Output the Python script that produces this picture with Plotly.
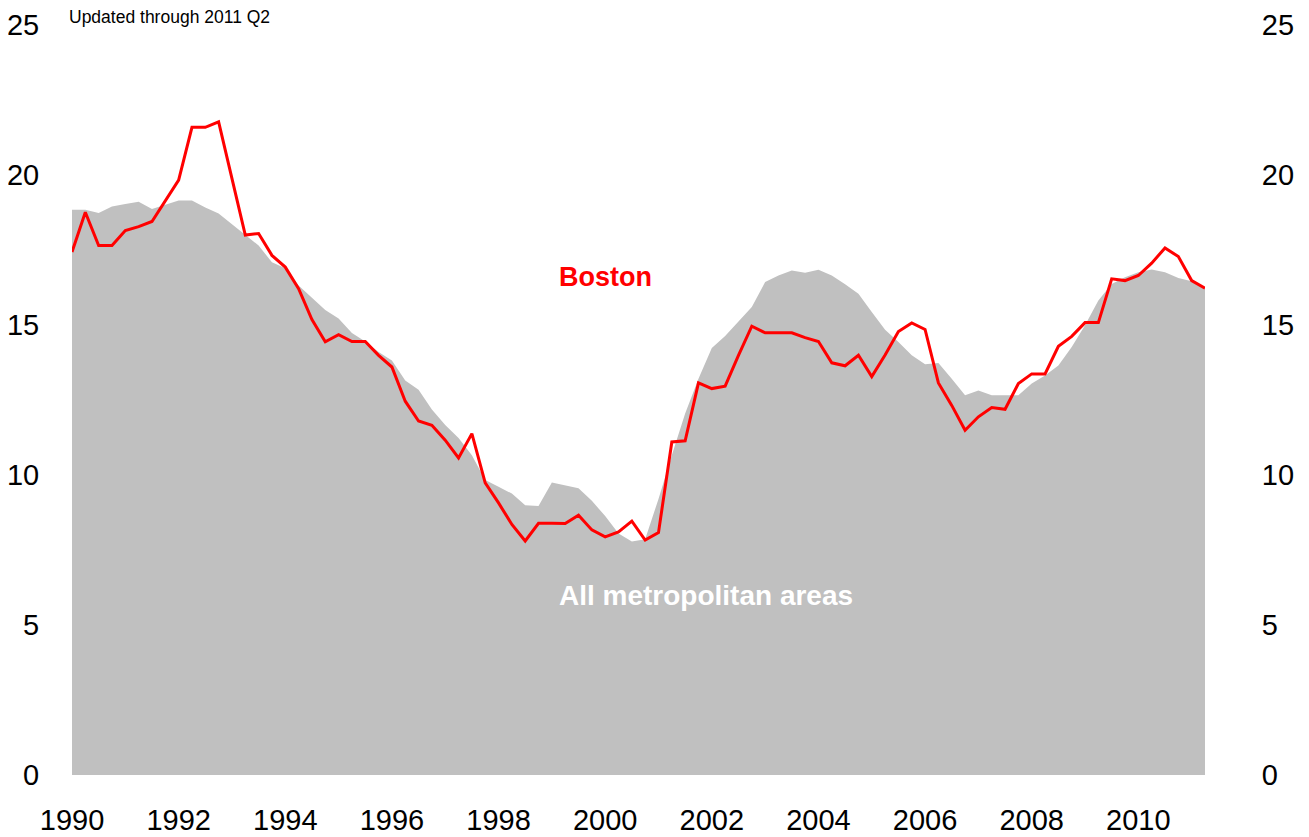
import plotly.graph_objects as go

# Quarterly, 1990 Q1 .. 2011 Q2
start_year = 1990
boston = [17.43, 18.76, 17.65, 17.65, 18.15, 18.28, 18.45, 19.15, 19.83, 21.59,
          21.59, 21.77, 19.93, 18.00, 18.05, 17.32, 16.93, 16.21, 15.18, 14.44,
          14.68, 14.45, 14.45, 13.99, 13.60, 12.46, 11.80, 11.66, 11.16, 10.57,
          11.38, 9.74, 9.07, 8.35, 7.80, 8.39, 8.39, 8.38, 8.66, 8.17,
          7.94, 8.10, 8.46, 7.83, 8.08, 11.10, 11.14, 13.07, 12.88, 12.96,
          13.99, 14.96, 14.74, 14.74, 14.74, 14.58, 14.45, 13.74, 13.64, 13.99,
          13.28, 14.00, 14.78, 15.07, 14.85, 13.07, 12.32, 11.49, 11.94, 12.25,
          12.19, 13.05, 13.37, 13.37, 14.29, 14.62, 15.08, 15.08, 16.54, 16.48,
          16.65, 17.06, 17.57, 17.28, 16.48, 16.23]
all_metro = [18.84, 18.84, 18.73, 18.95, 19.03, 19.11, 18.87, 19.00, 19.15, 19.15,
             18.92, 18.72, 18.37, 18.00, 17.65, 17.09, 16.89, 16.32, 15.90, 15.50,
             15.22, 14.73, 14.45, 14.10, 13.82, 13.15, 12.84, 12.18, 11.67, 11.23,
             10.66, 9.83, 9.61, 9.38, 8.99, 8.97, 9.75, 9.66, 9.56, 9.14,
             8.63, 8.05, 7.78, 7.86, 9.20, 10.66, 12.05, 13.21, 14.23, 14.63,
             15.10, 15.60, 16.43, 16.65, 16.82, 16.74, 16.84, 16.65, 16.36, 16.04,
             15.43, 14.84, 14.43, 13.99, 13.69, 13.73, 13.21, 12.66, 12.82, 12.66,
             12.66, 12.66, 13.05, 13.32, 13.65, 14.27, 14.99, 15.82, 16.37, 16.59,
             16.76, 16.85, 16.76, 16.57, 16.46, 16.23]
x_vals = [start_year + i / 4 for i in range(len(boston))]
tick_years = list(range(1990, 2011, 2))
y_ticks = [0, 5, 10, 15, 20, 25]

FONT = "Liberation Sans, Arial, sans-serif"

fig = go.Figure()
fig.add_trace(go.Scatter(x=x_vals, y=all_metro, mode="lines", fill="tozeroy",
                         fillcolor="#C0C0C0", line=dict(width=0, color="#C0C0C0"),
                         hoverinfo="skip", showlegend=False))
fig.add_trace(go.Scatter(x=x_vals, y=boston, mode="lines",
                         line=dict(color="#FF0000", width=3),
                         showlegend=False))
fig.add_trace(go.Scatter(x=[x_vals[0]], y=[0], yaxis="y2", mode="markers",
                         marker=dict(opacity=0), hoverinfo="skip", showlegend=False))

# page body adds an 8px offset; figure sized to fill the 1309x837 window
fig.update_layout(
    width=1301, height=829,
    margin=dict(l=64, r=104, t=17, b=62, autoexpand=False),
    paper_bgcolor="white", plot_bgcolor="white",
    font=dict(family=FONT, size=29, color="black"),
    xaxis=dict(range=[1990, 2011.25], tickvals=tick_years,
               ticktext=[str(y) for y in tick_years], automargin=False,
               showgrid=False, zeroline=False, showline=False,
               ticks="outside", ticklen=19, tickcolor="rgba(0,0,0,0)"),
    yaxis=dict(range=[0, 25], tickvals=y_ticks, showgrid=False, zeroline=False,
               showline=False, ticks="outside", ticklen=26, automargin=False,
               tickcolor="rgba(0,0,0,0)"),
    yaxis2=dict(range=[0, 25], tickvals=y_ticks, overlaying="y", side="right",
                showgrid=False, zeroline=False, showline=False, automargin=False,
                ticks="outside", ticklen=50, tickcolor="rgba(0,0,0,0)"),
    annotations=[
        dict(text="Updated through 2011 Q2", xref="paper", yref="paper",
             x=-0.004, y=1.011, xanchor="left", yanchor="middle",
             showarrow=False, font=dict(family=FONT, size=17.5, color="black")),
        dict(text="<b>Boston</b>", x=2000.0, y=16.6, xref="x", yref="y",
             showarrow=False, font=dict(family=FONT, size=27, color="#FF0000")),
        dict(text="<b>All metropolitan areas</b>", x=2001.9, y=5.97, xref="x", yref="y",
             showarrow=False, font=dict(family=FONT, size=28, color="white")),
    ],
)

fig.write_html("out.html")
